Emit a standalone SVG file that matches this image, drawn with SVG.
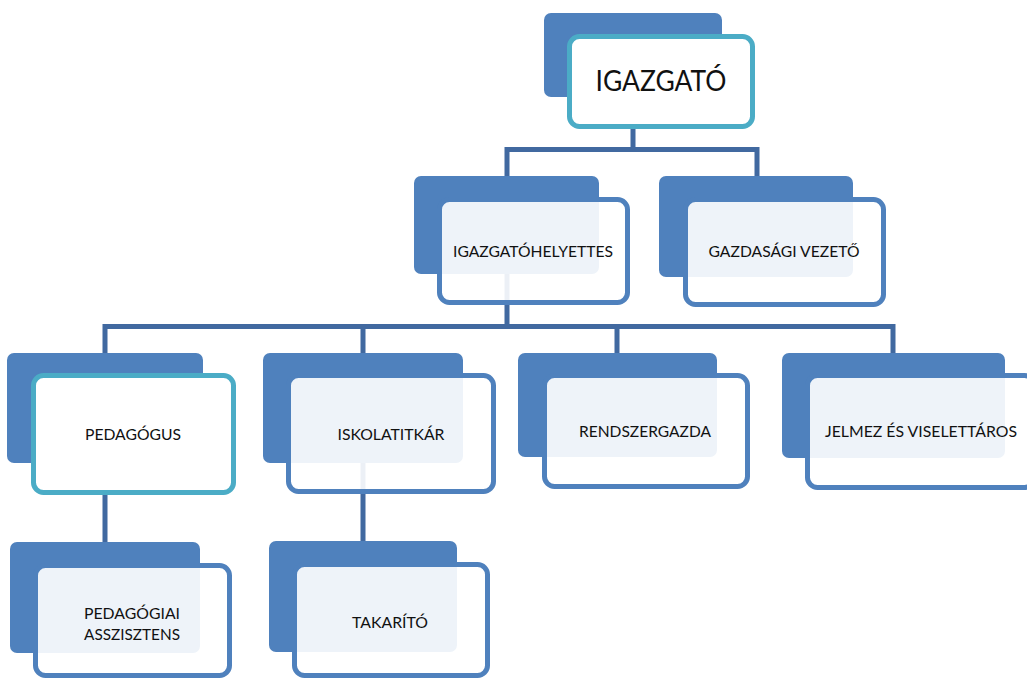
<svg xmlns="http://www.w3.org/2000/svg" width="1027" height="680" viewBox="0 0 1027 680">
<style>
.bg{fill:#ffffff}
.back{fill:#4F81BD}
.front{fill:#ffffff;fill-opacity:0.9;stroke:#4F81BD;stroke-width:5}
.fronth{fill:#ffffff;stroke:#4BACC6;stroke-width:5}
.conn{stroke:#4169A0;stroke-width:5;fill:none;stroke-linecap:butt;stroke-linejoin:miter}
text{font-family:Lato,"Liberation Sans",sans-serif;fill:#111111;text-anchor:middle}
.t{font-size:16px}
.big{font-size:29px}
</style>
<rect class="bg" x="0" y="0" width="1027" height="680"/>
<g id="connectors">
<path class="conn" d="M633,129 V149.5 M507,176 V149.5 H757 V176"/>
<path class="conn" d="M507,274 V326.5 M105,353 V326.5 H893 V353 M363,326.5 V353 M617,326.5 V353"/>
<path class="conn" d="M105,463 V542 M363,463 V541"/>
</g>
<g id="node-igazgato">
<rect class="back" x="544" y="13" width="178" height="84" rx="7"/>
<rect class="fronth" x="569.5" y="36.5" width="183" height="90" rx="10"/>
<text class="big" x="661" y="91" textLength="131" lengthAdjust="spacingAndGlyphs">IGAZGATÓ</text>
</g>
<g id="node-igazgatohelyettes">
<rect class="back" x="414" y="176" width="185" height="98" rx="7"/>
<rect class="front" x="439.5" y="199.5" width="188" height="103" rx="10"/>
<text class="t" x="533" y="257" textLength="160" lengthAdjust="spacingAndGlyphs">IGAZGATÓHELYETTES</text>
</g>
<g id="node-gazdasagi">
<rect class="back" x="659" y="176" width="194" height="101" rx="7"/>
<rect class="front" x="685.5" y="199.5" width="198" height="105" rx="10"/>
<text class="t" x="784" y="257" textLength="151" lengthAdjust="spacingAndGlyphs">GAZDASÁGI VEZETŐ</text>
</g>
<g id="node-pedagogus">
<rect class="back" x="7" y="353" width="196" height="110" rx="7"/>
<rect class="fronth" x="33.5" y="375.5" width="200" height="117" rx="10"/>
<text class="t" x="133" y="440" textLength="96" lengthAdjust="spacingAndGlyphs">PEDAGÓGUS</text>
</g>
<g id="node-iskolatitkar">
<rect class="back" x="263" y="353" width="200" height="110" rx="7"/>
<rect class="front" x="288.5" y="375.5" width="205" height="116" rx="10"/>
<text class="t" x="391" y="440" textLength="107" lengthAdjust="spacingAndGlyphs">ISKOLATITKÁR</text>
</g>
<g id="node-rendszergazda">
<rect class="back" x="518" y="353" width="199" height="104" rx="7"/>
<rect class="front" x="544.5" y="375.5" width="203" height="111" rx="10"/>
<text class="t" x="645" y="437" textLength="132" lengthAdjust="spacingAndGlyphs">RENDSZERGAZDA</text>
</g>
<g id="node-jelmez">
<rect class="back" x="782" y="353" width="223" height="105" rx="7"/>
<rect class="front" x="807.5" y="375.5" width="227" height="112" rx="10"/>
<text class="t" x="921" y="437" textLength="192" lengthAdjust="spacingAndGlyphs">JELMEZ ÉS VISELETTÁROS</text>
</g>
<g id="node-pedagogiai-asszisztens">
<rect class="back" x="10" y="542" width="190" height="111" rx="7"/>
<rect class="front" x="35.5" y="565.5" width="194" height="110" rx="10"/>
<text class="t" x="132" y="619" textLength="96" lengthAdjust="spacingAndGlyphs">PEDAGÓGIAI</text>
<text class="t" x="132" y="640" textLength="96" lengthAdjust="spacingAndGlyphs">ASSZISZTENS</text>
</g>
<g id="node-takarito">
<rect class="back" x="269" y="541" width="188" height="111" rx="7"/>
<rect class="front" x="294.5" y="564.5" width="193" height="111" rx="10"/>
<text class="t" x="390" y="628" textLength="76" lengthAdjust="spacingAndGlyphs">TAKARÍTÓ</text>
</g>
</svg>
